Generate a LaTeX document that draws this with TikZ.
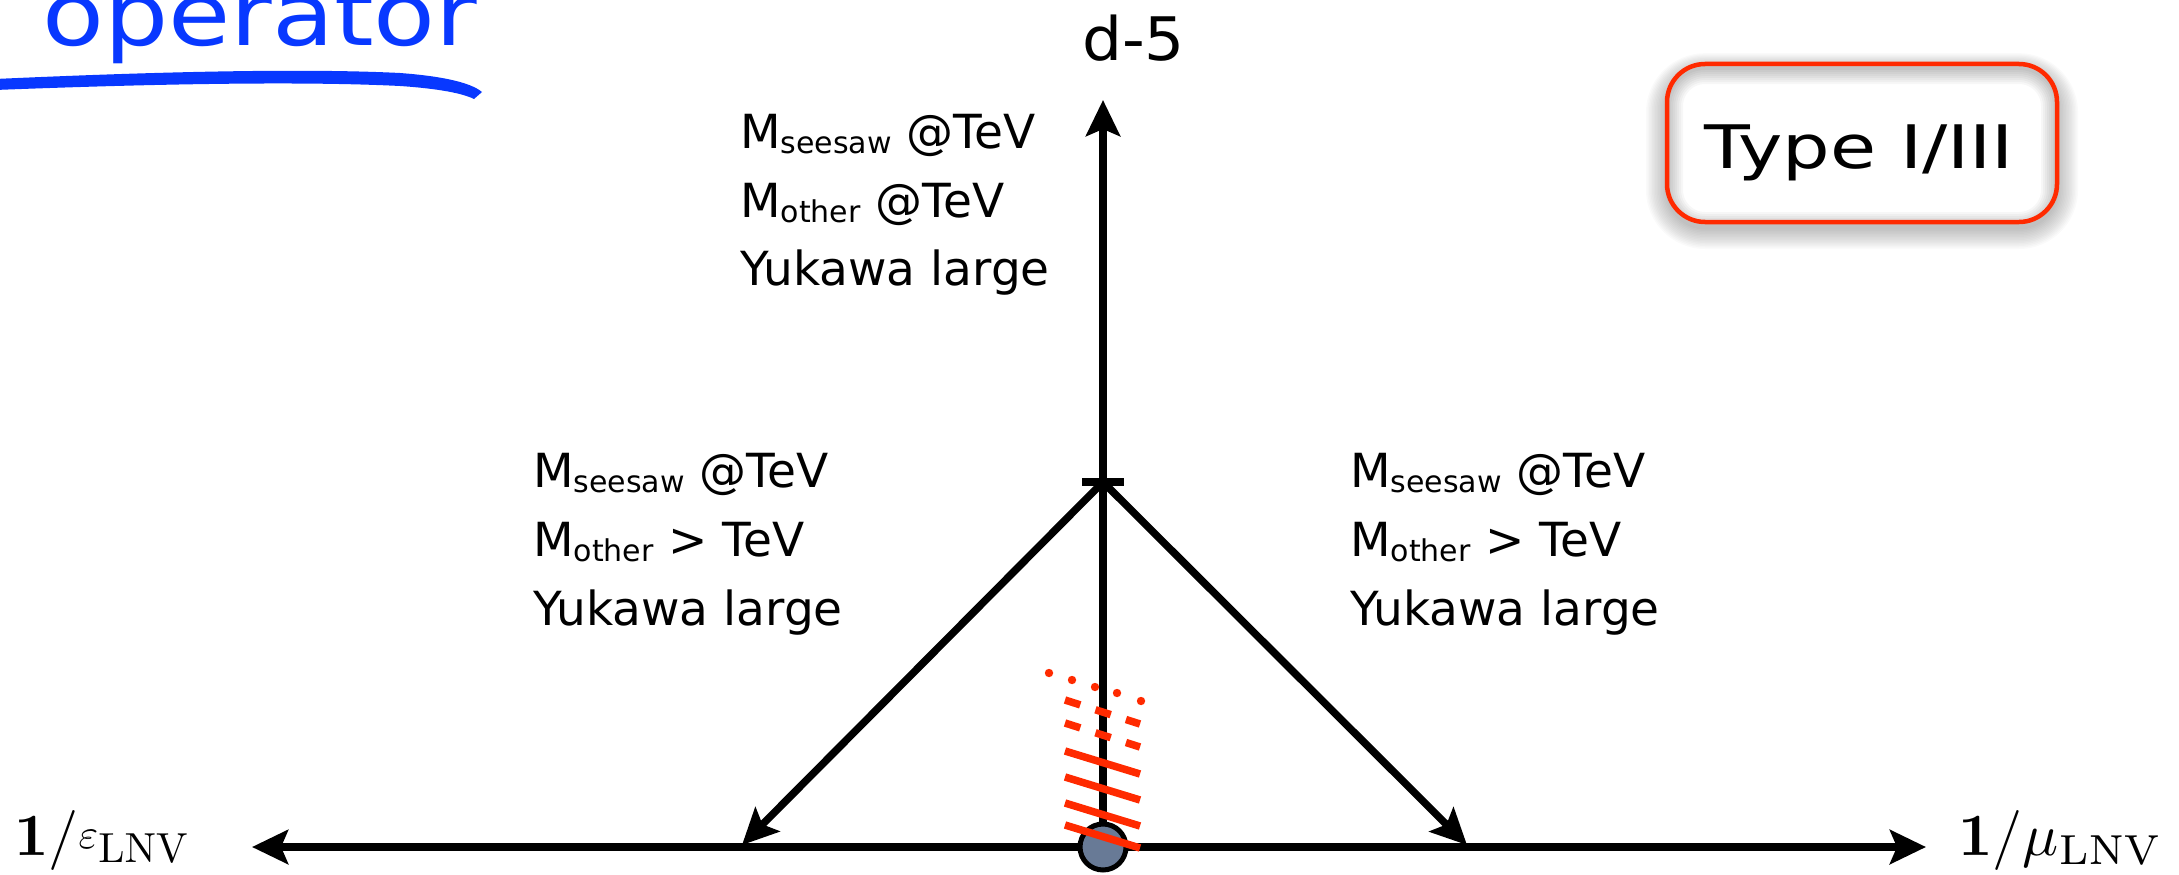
\documentclass[tikz,border=0pt]{standalone}
\usepackage{graphicx}
\usepackage[no-math]{fontspec}
\setmainfont{DejaVu Sans}
\usetikzlibrary{arrows.meta}

\definecolor{hatchred}{RGB}{255,42,0}
\definecolor{inkblue}{RGB}{8,56,255}
\definecolor{dotfill}{RGB}{104,122,150}

\newcommand\lblfont{\fontsize{47}{47}\selectfont}
\newcommand\lowsub[1]{\raisebox{-5pt}{\fontsize{30}{30}\selectfont #1}}

\begin{document}
\begin{tikzpicture}[x=1pt,y=-1pt,
  axis/.style={line width=7.5pt},
  tip/.style={-{Stealth[length=36pt,width=34pt,inset=7pt]}},
  txt/.style={anchor=base west,inner sep=0pt,font=\lblfont},
  hatch/.style={hatchred,line width=7.5pt},
]
\useasboundingbox (0,0) rectangle (2179,875);
\clip (0,0) rectangle (2179,875);

% handwritten heading and its brush underline
\node[anchor=base west,inner sep=0pt,text=inkblue,font=\fontsize{88}{88}\selectfont] (head) at (42,46) {\scalebox{1.15}[1]{operator}};
\fill[inkblue] (-5,79) .. controls (150,72) and (300,68) .. (400,73)
  .. controls (440,76) and (470,82) .. (482,92) -- (474,99)
  .. controls (460,92) and (430,88) .. (400,86)
  .. controls (300,81) and (150,84) .. (-5,90) -- cycle;

% axes
\coordinate (O) at (1103,847);
\coordinate (J) at (1103,482);
\coordinate (xl) at (252,847);
\coordinate (xr) at (1926,847);
\coordinate (yt) at (1103,100);
\coordinate (dl) at (742,845);
\coordinate (dr) at (1467,845);
\coordinate (tl) at (1082,482);
\coordinate (tr) at (1124,482);
\draw[axis,tip] (O) -- (xl);
\draw[axis,tip] (O) -- (xr);
\draw[axis,tip] (O) -- (yt);
\draw[axis,tip] (J) -- (dl);
\draw[axis,tip] (J) -- (dr);
\draw[axis] (tl) -- (tr);

% origin dot
\node[circle,draw=black,line width=5pt,fill=dotfill,minimum size=46pt,inner sep=0pt] (o) at (O) {};

% red hatching above the origin
\foreach \y in {751,777,803,825}
  \draw[hatch] (1065,\y) -- (1140,\y+23);
\foreach \y in {700,723}
  \draw[hatch,dash pattern=on 16pt off 16pt] (1065,\y) -- (1140,\y+24);
\foreach \x/\y in {1049/673,1072/680,1095/687,1117/693,1141/701}
  \fill[hatchred] (\x,\y) circle (4.2pt);

% axis labels
\node[anchor=base west,inner sep=0pt] (xlbl) at (14,855)
  {\scalebox{6}{$\mathbf{1/}$}\raisebox{7pt}{\scalebox{4.2}{$\varepsilon$}}\raisebox{-7pt}{\scalebox{4.2}{$\mathrm{LNV}$}}};
\node[anchor=base west,inner sep=0pt] (xrlbl) at (1958,855)
  {\scalebox{6}{$\mathbf{1/}\mu_{\mathrm{LNV}}$}};
\node[anchor=base west,inner sep=0pt,font=\fontsize{60}{60}\selectfont] (ylbl) at (1082,60) {\scalebox{1.05}[1]{d-5}};

% regime labels
\node[txt] (t1) at (740,148) {M\lowsub{seesaw} @TeV};
\node[txt] (t2) at (740,217) {M\lowsub{other} @TeV};
\node[txt] (t3) at (740,285) {Yukawa large};
\node[txt] (l1) at (533,487) {M\lowsub{seesaw} @TeV};
\node[txt] (l2) at (533,556) {M\lowsub{other} > TeV};
\node[txt] (l3) at (533,625) {Yukawa large};
\node[txt] (r1) at (1350,487) {M\lowsub{seesaw} @TeV};
\node[txt] (r2) at (1350,556) {M\lowsub{other} > TeV};
\node[txt] (r3) at (1350,625) {Yukawa large};

% framed tag with soft shadow
\foreach \e in {1,...,14}
  \fill[black,opacity=0.018,rounded corners={38pt+\e*1.5pt}]
    (1667-\e*1.5,64-\e*1.2+6) rectangle (2057+\e*1.5,222+\e*1.5+6);
\fill[white,rounded corners=38pt] (1667,64) rectangle (2057,222);
\begin{scope}
  \clip[rounded corners=38pt] (1667,64) rectangle (2057,222);
  \foreach \w in {4,8,...,32}
    \draw[black,opacity=0.03,line width=\w pt,rounded corners=38pt] (1667,68) rectangle (2057,228);
\end{scope}
\node[draw=hatchred,line width=4.5pt,rounded corners=38pt,minimum width=390pt,minimum height=158pt,inner sep=0pt] (tag) at (1862,143) {};
\node[anchor=base,inner sep=0pt,font=\fontsize{60}{60}\selectfont] (taglbl) at (1859,168) {\scalebox{1.25}[1]{Type I/III}};
\end{tikzpicture}
\end{document}
